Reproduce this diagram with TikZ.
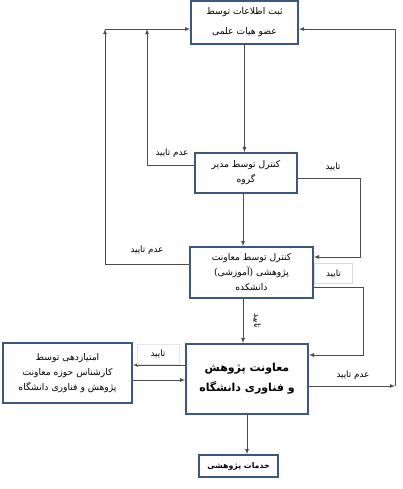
\documentclass[tikz,border=0pt]{standalone}
\usepackage{fontspec}
\usetikzlibrary{calc}
\newfontfamily\arabicfont[Script=Arabic]{DejaVu Sans}
\TeXXeTstate=1
\newcommand{\fa}[1]{\beginR #1\endR}
\definecolor{boxblue}{RGB}{62,88,124}
\tikzset{
  box/.style={draw=boxblue,line width=1.6pt,fill=white,align=center,inner sep=2pt,
    font=\arabicfont\fontsize{9.2}{15}\selectfont},
  boldbox/.style={box,font=\arabicfont\bfseries\fontsize{11}{20}\selectfont},
  lab/.style={font=\arabicfont\fontsize{8.8}{10}\selectfont,inner sep=1.5pt},
  conn/.style={draw=black!70,line width=0.8pt},
}

\begin{document}
\begin{tikzpicture}[x=1pt,y=-1pt,>=latex]
  \useasboundingbox (0,0) rectangle (402,489);

  \node (B1) at (244.5,22.5) [box,minimum width=107pt,minimum height=43pt,
    font=\arabicfont\fontsize{9.2}{20}\selectfont]
    {\fa{ثبت اطلاعات توسط}\\\fa{عضو هیات علمی}};
  \node (B2) at (246,173) [box,minimum width=102pt,minimum height=40pt]
    {\fa{کنترل توسط مدیر}\\\fa{گروه}};
  \node (B3) at (251.5,272.5) [box,minimum width=123pt,minimum height=51pt]
    {\fa{کنترل توسط معاونت}\\\fa{پژوهشی (آموزشی)}\\\fa{دانشکده}};
  \node (B4) at (67.5,373) [box,minimum width=129pt,minimum height=60pt,inner sep=1pt]
    {\fa{امتیازدهی توسط}\\\fa{کارشناس حوزه معاونت}\\\fa{پژوهش و فناوری دانشگاه}};
  \node (B5) at (247,379) [boldbox,minimum width=122pt,minimum height=70pt]
    {\fa{معاونت پژوهش}\\\fa{و فناوری دانشگاه}};
  \node (B6) at (238.5,466) [boldbox,minimum width=79pt,minimum height=22pt,
    font=\arabicfont\bfseries\fontsize{7.8}{10}\selectfont]
    {\fa{خدمات پژوهشی}};

  \coordinate (T) at (105,29);
  \coordinate (L1) at (147,165);
  \coordinate (L2) at (105,264);
  \coordinate (R1) at (360,178);
  \coordinate (Ra) at (360,257);
  \coordinate (R2) at (363,287);
  \coordinate (Rb) at (363,355);
  \coordinate (R3) at (395,386);
  \coordinate (Rt) at (395,29);
  \coordinate (D) at (243,0);

% main chain
\draw[conn,->] (B1.south) to (B1.south |- B2.north);
\draw[conn,->] (B2.south -| D) to (B3.north -| D);
\draw[conn,->] (B3.south -| D) to (B5.north -| D);
\draw[conn,->] (B5.south) to (B5.south |- B6.north);

% rejections to the left
\draw[conn,->] (B2.west |- L1) -- (L1) -- (L1 |- T);
\draw[conn,->] (B3.west |- L2) -- (L2) -- (T);
\draw[conn,->] (T) -- (B1.west |- T);

% approvals to the right
\draw[conn,->] (B2.east |- R1) -- (R1) -- (Ra) -- (B3.east |- Ra);
\draw[conn,->] (B3.east |- R2) -- (R2) -- (Rb) -- (B5.east |- Rb);
\draw[conn,->] (B5.east |- R3) -- (R3);
\draw[conn,->] (R3) -- (Rt) -- (B1.east |- Rt);

% scoring loop
\draw[conn,->] (B5.west |- 0,365) -- (B4.east |- 0,365);
\draw[conn,->] (B4.east |- 0,380) -- (B5.west |- 0,380);

  \node (N1) at (172,153) [lab] {\fa{عدم تایید}};
  \node (N2) at (147,250) [lab] {\fa{عدم تایید}};
  \node (Y1) at (333,167) [lab] {\fa{تایید}};
  \node (Y2) at (333.5,273.5) [lab,draw=black!15,minimum width=38pt,minimum height=20pt] {\fa{تایید}};
  \node (Y3) at (257,321) [lab,rotate=-90] {\fa{تایید}};
  \node (Y4) at (158,354) [lab,draw=black!10,minimum width=42pt,minimum height=20pt] {\fa{تایید}};
  \node (N3) at (353,375) [lab] {\fa{عدم تایید}};
\end{tikzpicture}
\end{document}
